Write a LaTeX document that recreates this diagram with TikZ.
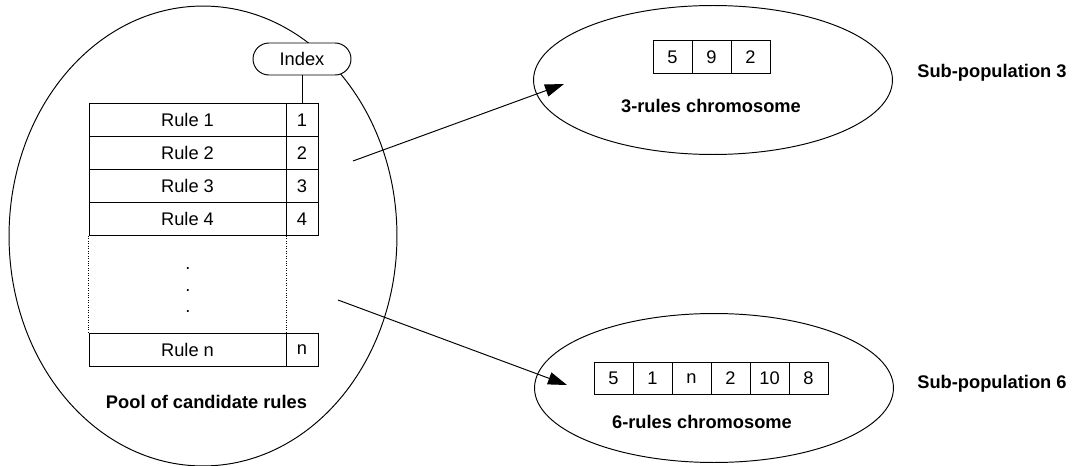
\documentclass[tikz,border=0pt]{standalone}
\usepackage{fontspec}
\setmainfont{Liberation Sans}
\usetikzlibrary{shapes.geometric,arrows.meta}

\begin{document}
\begin{tikzpicture}[x=0.02cm,y=-0.02cm,line width=0.55pt,
            every node/.style={font=\fontsize{10.4}{12.5}\selectfont},
            pool/.style={draw,ellipse,minimum width=7.76cm,minimum height=9.2cm},
            subpop/.style={draw,ellipse,minimum width=7.18cm,minimum height=2.98cm},
            rulecell/.style={draw,minimum width=3.94cm,minimum height=0.66cm,inner sep=0},
            idxcell/.style={draw,minimum width=0.64cm,minimum height=0.66cm,inner sep=0},
            gene/.style={draw,minimum width=0.78cm,minimum height=0.65cm,inner sep=0},
            bold/.style={font=\fontsize{10.4}{12.5}\selectfont\bfseries},
            link/.style={-{Triangle[length=0.38cm,width=0.25cm]}}
            ]
            \def\rx{187.5} % centre of the rule column
            \def\ix{302}   % centre of the index column
            \def\gw{39}    % gene cell width

            \useasboundingbox (0,0) rectangle (1075,466);

            % the pool and the two sub-populations
            \node[pool] (pool) at (203,236) {};
            \node[subpop] (sub3) at (713,80) {};
            \node[subpop] (sub6) at (714,388) {};

            % table of rules with their index
            \foreach \r/\y in {1/120,2/153,3/186,4/219,n/349.5} {
                \node[rulecell] (rule\r) at (\rx,\y) {Rule \r};
                \node[idxcell] (idx\r) at (\ix,\y) {\r};
            }
            \draw[densely dotted,line width=0.4pt] (rule4.south west) -- (rulen.north west);
            \draw[densely dotted,line width=0.4pt] (rule4.south east) -- (rulen.north east);
            \foreach \k/\y in {1/269,2/291,3/312}
                \node (dot\k) at (188,\y) {.};

            \node[draw,fill=white,rounded corners=0.32cm,minimum width=1.96cm,minimum height=0.64cm] (index) at (\ix,59) {Index};
            \draw (index) -- (idx1);
            \node[bold] (poolname) at (206.5,402) {Pool of candidate rules};

            % chromosomes
            \foreach \g [count=\i] in {5,9,2}
                \node[gene] (a\i) at ({672.5+\gw*(\i-1)},57) {\g};
            \foreach \g [count=\i] in {5,1,n,2,10,8}
                \node[gene] (b\i) at ({613.5+\gw*(\i-1)},378.5) {\g};
            \node[bold] (name3) at (711,106) {3-rules chromosome};
            \node[bold] (name6) at (702,422) {6-rules chromosome};
            \node[bold,anchor=west] (tag3) at (911,73) {Sub-population 3};
            \node[bold,anchor=west] (tag6) at (911,384) {Sub-population 6};

            % picking rules out of the pool
            \coordinate (from3) at (353,161);
            \coordinate (to3) at (564,84);
            \coordinate (from6) at (338,300);
            \coordinate (to6) at (567,385);
            \draw[link] (from3) -- (to3);
            \draw[link] (from6) -- (to6);
        \end{tikzpicture}
\end{document}
